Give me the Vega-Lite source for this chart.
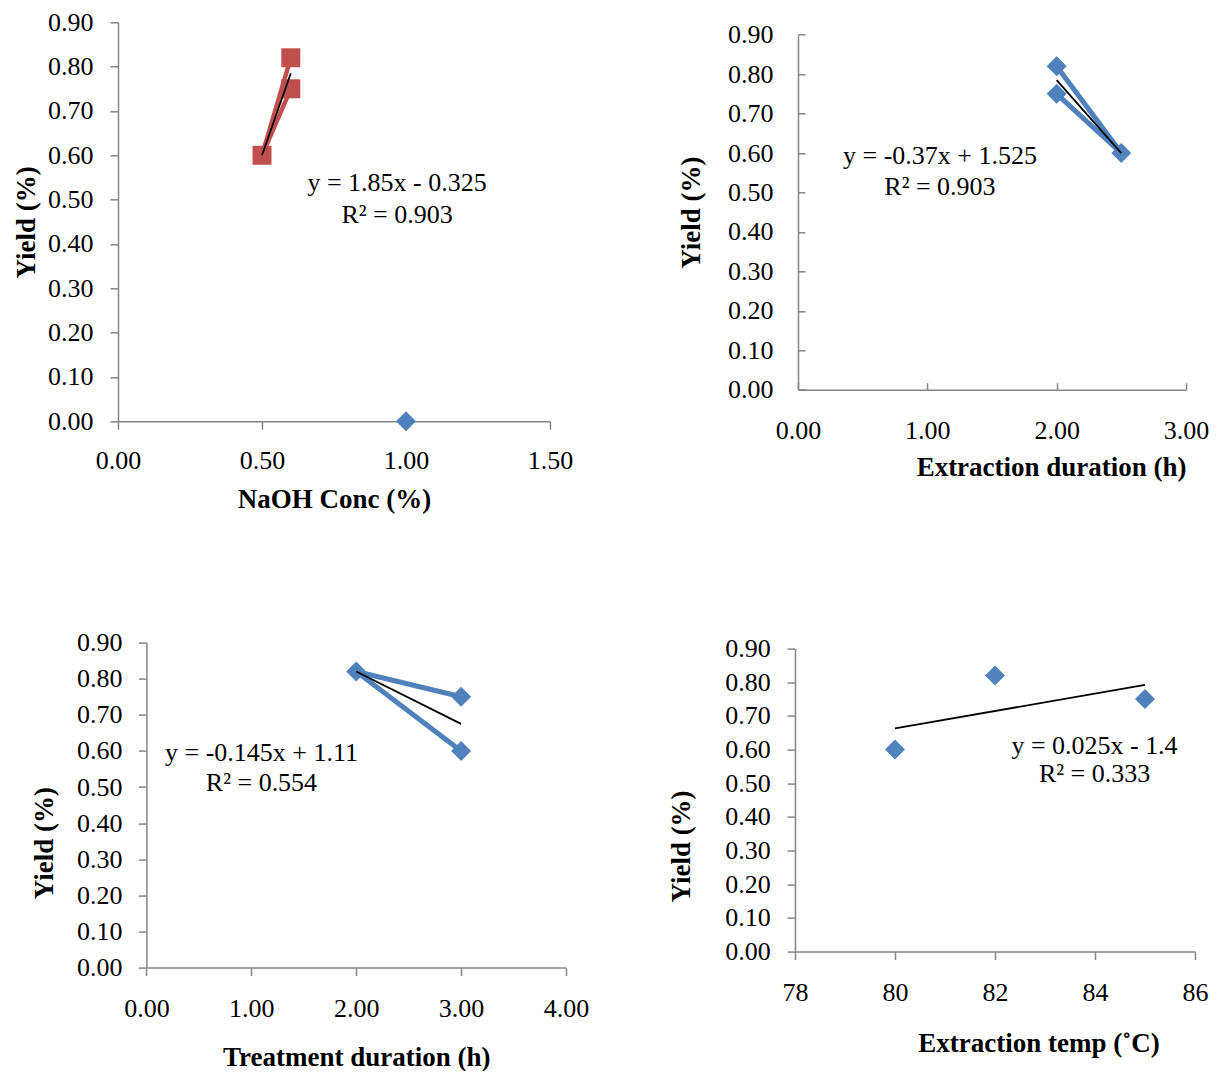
{
  "$schema": "https://vega.github.io/schema/vega-lite/v6.json",
  "padding": {"left": 12, "top": 9.3, "right": 0, "bottom": 0},
  "background": "white",
  "spacing": 116.3,
  "config": {
    "view": {"stroke": null},
    "axis": {
      "grid": false,
      "domainColor": "#868686",
      "domainWidth": 1.5,
      "tickColor": "#868686",
      "tickWidth": 1.5,
      "tickSize": 8,
      "labelFont": "Liberation Serif",
      "labelFontSize": 26,
      "labelColor": "#000000",
      "titleFont": "Liberation Serif",
      "titleFontSize": 27,
      "titleFontWeight": "bold",
      "titleColor": "#000000",
      "labelFlush": false,
      "labelOverlap": false
    }
  },
  "vconcat": [
    {
      "spacing": 104,
      "hconcat": [
        {
          "width": 432, "height": 399,
          "data": {"values": [
            {"x": 0.6, "y": 0.82, "series": "NaOH", "seq": 1},
            {"x": 0.5, "y": 0.6, "series": "NaOH", "seq": 2},
            {"x": 0.6, "y": 0.75, "series": "NaOH", "seq": 3},
            {"x": 1.0, "y": 0.0, "series": "other", "seq": 1},
            {"x": 0.5, "y": 0.6, "series": "trend", "seq": 1},
            {"x": 0.6, "y": 0.785, "series": "trend", "seq": 2},
            {"x": 0.969, "y": 0.537, "series": "eq", "text": "y = 1.85x - 0.325"},
            {"x": 0.969, "y": 0.466, "series": "eq", "text": "R² = 0.903"}
          ]},
          "encoding": {
            "x": {"field": "x", "type": "quantitative", "scale": {"domain": [0, 1.5], "nice": false, "zero": false},
              "axis": {"title": "NaOH Conc (%)", "values": [0, 0.5, 1, 1.5], "format": ".2f", "labelPadding": 18.5, "titlePadding": 12.7}},
            "y": {"field": "y", "type": "quantitative", "scale": {"domain": [0, 0.9], "nice": false, "zero": false},
              "axis": {"title": "Yield (%)", "values": [0, 0.1, 0.2, 0.3, 0.4, 0.5, 0.6, 0.7, 0.8, 0.9], "format": ".2f", "labelPadding": 17, "titlePadding": 7.4}}
          },
          "layer": [
            {"transform": [{"filter": "datum.series == 'NaOH'"}], "mark": {"type": "line", "color": "#C0504D", "strokeWidth": 4.5}, "encoding": {"order": {"field": "seq", "type": "quantitative"}}},
            {"transform": [{"filter": "datum.series == 'NaOH'"}], "mark": {"type": "point", "shape": "square", "filled": true, "size": 361, "color": "#C0504D", "opacity": 1}},
            {"transform": [{"filter": "datum.series == 'other'"}], "mark": {"type": "point", "shape": "diamond", "filled": true, "size": 400, "color": "#4F81BD", "opacity": 1}},
            {"transform": [{"filter": "datum.series == 'trend'"}], "mark": {"type": "line", "color": "#000000", "strokeWidth": 1.8}, "encoding": {"order": {"field": "seq", "type": "quantitative"}}},
            {"transform": [{"filter": "datum.series == 'eq'"}], "mark": {"type": "text", "font": "Liberation Serif", "fontSize": 26, "align": "center", "baseline": "middle", "color": "#000000"}, "encoding": {"text": {"field": "text"}}}
          ]
        },
        {
          "width": 388, "height": 367.4,
          "data": {"values": [
            {"x": 2.0, "y": 0.82, "series": "data", "seq": 1},
            {"x": 2.5, "y": 0.6, "series": "data", "seq": 2},
            {"x": 2.0, "y": 0.75, "series": "data", "seq": 3},
            {"x": 2.0, "y": 0.785, "series": "trend", "seq": 1},
            {"x": 2.5, "y": 0.6, "series": "trend", "seq": 2},
            {"x": 1.0975, "y": 0.5925, "series": "eq", "text": "y = -0.37x + 1.525"},
            {"x": 1.0975, "y": 0.514, "series": "eq", "text": "R² = 0.903"}
          ]},
          "encoding": {
            "x": {"field": "x", "type": "quantitative", "scale": {"domain": [0, 3], "nice": false, "zero": false},
              "axis": {"title": "Extraction duration (h)", "values": [0, 1, 2, 3], "format": ".2f", "tickSize": -7, "labelPadding": 35, "titlePadding": 11, "titleAnchor": "end"}},
            "y": {"field": "y", "type": "quantitative", "scale": {"domain": [0, 0.9], "nice": false, "zero": false, "range": [367.4, 12.4]},
              "axis": {"title": "Yield (%)", "values": [0, 0.1, 0.2, 0.3, 0.4, 0.5, 0.6, 0.7, 0.8, 0.9], "format": ".2f", "tickSize": -7, "labelPadding": 32, "titlePadding": 22}}
          },
          "layer": [
            {"transform": [{"filter": "datum.series == 'data'"}], "mark": {"type": "line", "color": "#4F81BD", "strokeWidth": 5}, "encoding": {"order": {"field": "seq", "type": "quantitative"}}},
            {"transform": [{"filter": "datum.series == 'data'"}], "mark": {"type": "point", "shape": "diamond", "filled": true, "size": 400, "color": "#4F81BD", "opacity": 1}},
            {"transform": [{"filter": "datum.series == 'trend'"}], "mark": {"type": "line", "color": "#000000", "strokeWidth": 1.8}, "encoding": {"order": {"field": "seq", "type": "quantitative"}}},
            {"transform": [{"filter": "datum.series == 'eq'"}], "mark": {"type": "text", "font": "Liberation Serif", "fontSize": 26, "align": "center", "baseline": "middle", "color": "#000000"}, "encoding": {"text": {"field": "text"}}}
          ]
        }
      ]
    },
    {
      "spacing": 78,
      "hconcat": [
        {
          "width": 448, "height": 325,
          "data": {"values": [
            {"x": 3.0, "y": 0.75, "series": "data", "seq": 1},
            {"x": 2.0, "y": 0.82, "series": "data", "seq": 2},
            {"x": 3.0, "y": 0.6, "series": "data", "seq": 3},
            {"x": 2.0, "y": 0.82, "series": "trend", "seq": 1},
            {"x": 3.0, "y": 0.675, "series": "trend", "seq": 2},
            {"x": 1.097, "y": 0.595, "series": "eq", "text": "y = -0.145x + 1.11"},
            {"x": 1.097, "y": 0.512, "series": "eq", "text": "R² = 0.554"}
          ]},
          "encoding": {
            "x": {"field": "x", "type": "quantitative", "scale": {"domain": [0, 4], "nice": false, "zero": false, "range": [28.4, 448]},
              "axis": {"title": "Treatment duration (h)", "values": [0, 1, 2, 3, 4], "format": ".2f", "labelPadding": 20, "titlePadding": 23.3}},
            "y": {"field": "y", "type": "quantitative", "scale": {"domain": [0, 0.9], "nice": false, "zero": false},
              "axis": {"title": "Yield (%)", "values": [0, 0.1, 0.2, 0.3, 0.4, 0.5, 0.6, 0.7, 0.8, 0.9], "format": ".2f", "offset": -28.4, "labelPadding": 16.5, "titlePadding": 18, "titleY": 200}}
          },
          "layer": [
            {"transform": [{"filter": "datum.series == 'data'"}], "mark": {"type": "line", "color": "#4F81BD", "strokeWidth": 5}, "encoding": {"order": {"field": "seq", "type": "quantitative"}}},
            {"transform": [{"filter": "datum.series == 'data'"}], "mark": {"type": "point", "shape": "diamond", "filled": true, "size": 400, "color": "#4F81BD", "opacity": 1}},
            {"transform": [{"filter": "datum.series == 'trend'"}], "mark": {"type": "line", "color": "#000000", "strokeWidth": 1.8}, "encoding": {"order": {"field": "seq", "type": "quantitative"}}},
            {"transform": [{"filter": "datum.series == 'eq'"}], "mark": {"type": "text", "font": "Liberation Serif", "fontSize": 26, "align": "center", "baseline": "middle", "color": "#000000"}, "encoding": {"text": {"field": "text"}}}
          ]
        },
        {
          "width": 400, "height": 309,
          "data": {"values": [
            {"x": 80, "y": 0.6, "series": "data"},
            {"x": 82, "y": 0.82, "series": "data"},
            {"x": 85, "y": 0.75, "series": "data"},
            {"x": 80, "y": 0.663, "series": "trend", "seq": 1},
            {"x": 85, "y": 0.792, "series": "trend", "seq": 2},
            {"x": 83.99, "y": 0.61, "series": "eq", "text": "y = 0.025x - 1.4"},
            {"x": 83.99, "y": 0.527, "series": "eq", "text": "R² = 0.333"}
          ]},
          "encoding": {
            "x": {"field": "x", "type": "quantitative", "scale": {"domain": [78, 86], "nice": false, "zero": false},
              "axis": {"title": "Extraction temp (˚C)", "values": [78, 80, 82, 84, 86], "format": "d", "labelPadding": 20, "titlePadding": 25, "titleX": 243.5}},
            "y": {"field": "y", "type": "quantitative", "scale": {"domain": [0, 0.9], "nice": false, "zero": false, "range": [309, 6]},
              "axis": {"title": "Yield (%)", "values": [0, 0.1, 0.2, 0.3, 0.4, 0.5, 0.6, 0.7, 0.8, 0.9], "format": ".2f", "labelPadding": 16.7, "titlePadding": 29, "titleY": 203.4}}
          },
          "layer": [
            {"transform": [{"filter": "datum.series == 'data'"}], "mark": {"type": "point", "shape": "diamond", "filled": true, "size": 400, "color": "#4F81BD", "opacity": 1}},
            {"transform": [{"filter": "datum.series == 'trend'"}], "mark": {"type": "line", "color": "#000000", "strokeWidth": 1.8}, "encoding": {"order": {"field": "seq", "type": "quantitative"}}},
            {"transform": [{"filter": "datum.series == 'eq'"}], "mark": {"type": "text", "font": "Liberation Serif", "fontSize": 26, "align": "center", "baseline": "middle", "color": "#000000"}, "encoding": {"text": {"field": "text"}}}
          ]
        }
      ]
    }
  ]
}
